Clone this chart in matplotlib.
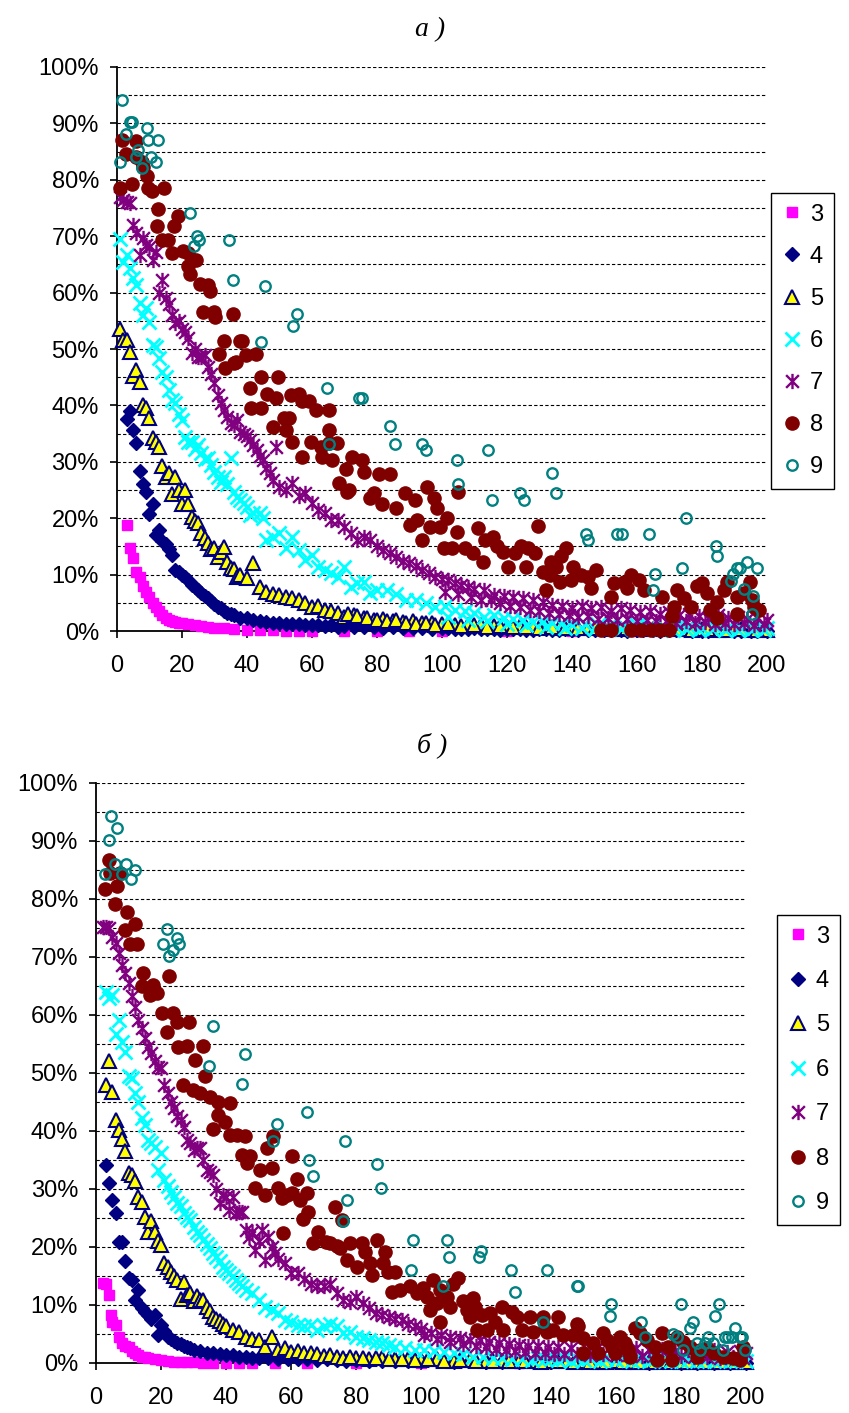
import matplotlib
matplotlib.use('Agg')
import matplotlib.pyplot as plt
from matplotlib.path import Path
from matplotlib.ticker import MultipleLocator, FuncFormatter

plt.rcParams['font.family'] = ['Liberation Sans', 'DejaVu Sans']

# ---------------- chart a ----------------
a3_x = [3, 4, 5, 6, 7, 8, 9, 10, 11, 12,
        13, 14, 15, 16, 17, 18, 19, 20, 22, 24,
        26, 28, 30, 33, 36, 40, 44, 48, 52, 56,
        60, 70, 80, 90, 100, 120, 140, 160, 180, 200]
a3_y = [18.8, 14.7, 12.9, 10.5, 9.5, 8, 7, 6, 5, 4.2,
        3.5, 2.8, 2.4, 2, 1.8, 1.6, 1.5, 1.4, 1.2, 1,
        0.9, 0.8, 0.6, 0.5, 0.3, 0.2, 0.1, 0.1, 0, 0,
        0, 0, 0, 0, 0, 0, 0, 0, 0, 0]

a4_x = [3, 4, 5, 6, 7, 8, 9, 10, 11, 12,
        13, 14, 15, 16, 17, 18, 19, 20, 21, 22,
        23, 24, 25, 26, 27, 28, 29, 30, 31, 32,
        33, 34, 35, 36, 38, 40, 42, 44, 46, 48,
        50, 52, 54, 56, 58, 60, 62, 64, 66, 68,
        70, 73, 76, 79, 82, 85, 88, 91, 94, 97,
        100, 104, 108, 112, 116, 120, 124, 128, 132, 136,
        140, 145, 150, 155, 160, 165, 170, 175, 180, 185,
        190, 195, 200]
a4_y = [37.6, 39, 35.6, 33.3, 28.4, 26, 24.6, 20.7, 22.5, 17,
        18, 16, 15.4, 14.5, 13.5, 10.8, 10.5, 10, 9.5, 9,
        8.2, 7.8, 7.3, 6.8, 6.3, 5.9, 5.3, 4.8, 4.3, 4,
        3.6, 3.2, 3, 2.8, 2.4, 2.3, 2, 1.8, 1.6, 1.5,
        1.4, 1.3, 1.3, 1.2, 1.1, 1, 1.1, 0.9, 1, 0.8,
        0.9, 0.8, 0.7, 0.8, 0.6, 0.7, 0.5, 0.6, 0.5, 0.4,
        0.5, 0.4, 0.4, 0.3, 0.4, 0.3, 0.3, 0.2, 0.3, 0.2,
        0.2, 0.2, 0.1, 0.2, 0.1, 0.1, 0.1, 0.1, 0, 0.1,
        0, 0, 0]
a4_tail_x = [102, 106, 110, 114, 118, 122, 126, 130, 134, 138,
             142, 147, 152, 157, 162, 167, 172, 177, 182, 187,
             192, 197]
a4_tail_y = [0.6, 0.3, 0.5, 0.4, 0.2, 0.4, 0.2, 0.3, 0.1, 0.3,
             0.1, 0.1, 0.2, 0, 0.1, 0, 0.1, 0, 0, 0.1,
             0, 0]

a5_x = [1, 2, 3, 4, 5, 6, 7, 8, 9, 10,
        11, 12, 13, 14, 15, 16, 17, 18, 19, 20,
        21, 22, 23, 24, 25, 26, 27, 28, 29, 30,
        31, 32, 33, 34, 35, 36, 37, 38, 40, 42,
        44, 46, 48, 50, 52, 54, 56, 58, 60, 62,
        64, 66, 68, 70, 73, 76, 79, 82, 85, 88,
        91, 94, 97, 100, 104, 108, 112, 116, 120, 124,
        128, 132, 136, 140, 145, 150, 155, 160, 165, 170,
        175, 180, 185, 190, 195, 200]
a5_y = [53.5, 51.6, 51.6, 49.5, 45.2, 46.3, 44.1, 40, 39.5, 37.8,
        34.2, 33.6, 32.6, 29.3, 27.3, 28, 24.3, 27.3, 25, 22.5,
        25, 22.5, 20.2, 19.5, 19.1, 17.4, 16.5, 15.6, 14.5, 14.7,
        13.1, 14, 14.9, 12.2, 11.2, 11, 9.6, 10, 9.4, 12.1,
        7.8, 6.9, 6.5, 6.4, 6, 5.8, 5.5, 5, 4.3, 4.5,
        3.7, 3.5, 3.2, 2.5, 2.8, 2.3, 2, 2.2, 1.8, 1.6,
        1.7, 1.4, 1.5, 1.2, 1.1, 1, 1.1, 0.9, 0.8, 0.9,
        0.7, 0.8, 0.6, 0.6, 0.5, 0.5, 0.4, 0.4, 0.3, 0.4,
        0.3, 0.3, 0.2, 0.3, 0.2, 0.2]
a5_tail_x = [71, 74, 77, 80, 83, 86, 89, 92, 95, 98,
             102, 106, 110, 114, 118, 122, 126, 130, 134, 138,
             142, 147, 152, 157, 162, 167, 172, 177, 182, 187,
             192, 197]
a5_tail_y = [3, 2.6, 2.3, 1.9, 1.7, 1.9, 1.5, 1.3, 1.4, 1,
             1.2, 0.9, 1, 0.8, 0.9, 0.7, 0.8, 0.6, 0.7, 0.5,
             0.6, 0.5, 0.4, 0.5, 0.3, 0.4, 0.3, 0.2, 0.3, 0.2,
             0.3, 0.1]

a6_x = [1, 2, 3, 4, 5, 6, 7, 8, 9, 10,
        11, 12, 13, 14, 15, 16, 17, 18, 19, 20,
        21, 22, 23, 24, 25, 26, 27, 28, 29, 30,
        31, 32, 33, 34, 35, 36, 37, 38, 39, 40,
        41, 42, 44, 45, 46, 48, 50, 52, 54, 56,
        58, 60, 62, 64, 66, 68, 70, 72, 74, 76,
        78, 80, 83, 86, 89, 92, 95, 98, 101, 104,
        107, 110, 113, 116, 119, 122, 125, 128, 131, 134,
        137, 140, 144, 148, 152, 156, 160, 164, 168, 172,
        176, 180, 184, 188, 192, 196, 200]
a6_y = [69.5, 65.4, 66.7, 64.4, 62.6, 61.3, 58.2, 56, 57.3, 54.8,
        50.7, 50.4, 48.4, 46, 45, 42.7, 41, 40.4, 38.5, 37.4,
        34.4, 33.5, 33.5, 32.2, 33, 31.6, 30.5, 30.7, 29.5, 28.2,
        27.3, 26.5, 27.3, 26, 30.7, 24.6, 23.8, 23.2, 22.7, 22,
        20.6, 21, 20.9, 20, 16.1, 16.7, 17.4, 14.7, 16.7, 14.4,
        12.6, 13.5, 11.3, 10.8, 10.3, 9.6, 11.3, 7.8, 8.5, 8.7,
        6.7, 7.3, 7.3, 6.5, 5.5, 5.5, 5, 4.3, 4.5, 3.7,
        3.5, 3.2, 2.5, 2.8, 2.3, 2.1, 2, 1.6, 1.8, 1.4,
        1.5, 1.1, 1.3, 1, 1.2, 0.9, 1, 0.8, 0.9, 0.7,
        0.8, 0.6, 0.7, 0.5, 0.6, 0.5, 0.5]
a6_tail_x = [102, 108, 114, 120, 126, 132, 138, 143, 147, 151,
             155, 159, 163, 167, 171, 175, 179, 183, 187, 191,
             195, 199]
a6_tail_y = [2.5, 2, 1.8, 1.2, 1, 0.8, 0.6, 0.5, 0.4, 0.5,
             0.3, 0.4, 0.3, 0.4, 0.2, 0.3, 0.2, 0.3, 0.2, 0.2,
             0.1, 0.2]

a7_x = [1, 2, 3, 4, 5, 6, 7, 8, 9, 10,
        11, 12, 13, 14, 15, 16, 17, 18, 19, 20,
        21, 22, 23, 24, 25, 26, 27, 28, 29, 30,
        31, 32, 33, 34, 35, 36, 37, 38, 39, 40,
        41, 42, 43, 44, 45, 46, 47, 48, 49, 50,
        52, 54, 56, 58, 60, 62, 64, 66, 68, 70,
        72, 74, 76, 78, 80, 82, 84, 86, 88, 90,
        92, 94, 96, 98, 100, 102, 104, 106, 108, 110,
        113, 116, 119, 122, 125, 128, 131, 134, 137, 140,
        143, 146, 149, 152, 155, 158, 161, 164, 167, 170,
        173, 176, 179, 182, 185, 188, 191, 194, 197, 200]
a7_y = [77, 76.5, 76, 75.9, 72, 70.6, 66.7, 69.7, 68.5, 68,
        65.8, 67.2, 59.9, 62.2, 59, 58, 56, 54.6, 55, 53.5,
        53, 52, 49.3, 50, 48.5, 48.6, 48.9, 46.8, 45.5, 44,
        41.8, 40.5, 39.2, 38, 36.9, 36.5, 37.4, 35.3, 35, 34.5,
        33.9, 33, 32.1, 31, 30.3, 28.9, 28, 26.8, 32.6, 25.5,
        25, 26.2, 24, 24.5, 22.7, 21.5, 20.9, 19.7, 19.7, 18.4,
        17.4, 16.1, 16.7, 16.1, 15, 14.4, 13.8, 13.1, 12.5, 12,
        11.5, 10.8, 10.3, 9.6, 9.2, 9, 8.5, 8.2, 7.8, 7.5,
        7.3, 6.4, 6.2, 6, 5.9, 5.5, 5.1, 4.6, 4.4, 4.1,
        4.5, 4, 4.2, 3.6, 4, 3.8, 3.3, 3.6, 3.1, 3.4,
        2.8, 3, 2.7, 2.4, 2.8, 2.3, 2.5, 2.1, 2.3, 2]
a7_tail_x = [101, 105, 109, 112, 115, 118, 121, 124, 127, 130,
             133, 136, 139, 142, 145, 148, 151, 154, 157, 160,
             163, 166, 169, 172, 175, 178, 181, 184, 187, 190,
             193, 196, 199]
a7_tail_y = [7, 6.5, 6, 5.5, 5.5, 5, 4.5, 4.2, 3.8, 3.5,
             3.2, 3, 2.8, 2.5, 2.6, 2.2, 2.4, 2, 2.2, 1.8,
             2, 1.7, 1.8, 1.5, 1.7, 1.4, 1.6, 1.3, 1.5, 1.2,
             1.4, 1.1, 1.2]

a8_pts = [(1.4, 87.1), (5.8, 86.8), (2.8, 84.6), (6, 84.1), (7.6, 83.2), (8, 82.3), (9.1, 80.6),
          (0.9, 78.5), (4.5, 79.3), (9.6, 78.5), (10.9, 78.1), (14.4, 78.5), (12.7, 74.9), (18.8, 73.6),
          (12.2, 71.8), (17.5, 71.8), (13.7, 69.3), (15.7, 69.3), (17, 67.1), (20.3, 67.4), (21.8, 67),
          (24.4, 65.8), (21.8, 64.8), (22.4, 63.3), (25.4, 61.5), (28, 61.3), (28.5, 60.2), (26.6, 56.5),
          (29.8, 56.5), (30.3, 55.7), (35.8, 56.2), (32.8, 51.5), (37.7, 51.5), (38.5, 51.5), (31.5, 49.1),
          (39.7, 48.9), (42.8, 49.2), (36.7, 47.7), (33.1, 46.6), (36.1, 47.5), (44.3, 45.1), (49.4, 45.1),
          (40.9, 43), (46.3, 42.1), (48.9, 41.3), (53.5, 41.8), (56, 42.1), (57, 40.7), (59.1, 40.7),
          (41.2, 39.5), (44.3, 39.5), (51.5, 37.7), (53, 37.7), (61.2, 39.2), (65.2, 39.2), (47.9, 36.2),
          (52, 35.6), (65.2, 35.6), (54, 33.6), (59.6, 33.6), (62.7, 32.7), (65.2, 33.3), (57, 30.8),
          (63.2, 30.8), (66.2, 30.3), (70.4, 28.8), (68.3, 26.2), (70.8, 24.7), (67.8, 33.3), (72.4, 30.9),
          (75.4, 30.3), (76, 28.2), (80.6, 27.9), (84.1, 27.9), (71.4, 25), (79, 24.4), (78, 23.5),
          (81.6, 22.6), (85.7, 21.8), (88.7, 24.4), (91.8, 23.2), (95.3, 25.6), (97.4, 23.5), (98.4, 21.8),
          (101.5, 20), (90.3, 18.8), (92.3, 19.7), (96.4, 18.5), (99.4, 18.5), (104.5, 17.6), (93.8, 16.1),
          (100.5, 14.7), (103, 14.7), (107.1, 14.7), (105, 24.7), (111.2, 18.2), (113.2, 16.1),
          (115.8, 16.7), (109.6, 13.8), (112.7, 12.3), (116.8, 15), (118.8, 14.1), (120.4, 11.4),
          (122.4, 13.8), (124.4, 15), (126.5, 14.7), (128.5, 13.8), (126, 11.4), (129.6, 18.6),
          (138.2, 14.8), (136.7, 13.3), (133.6, 12.2), (135.1, 11.4), (131, 10.5), (133.1, 9.9),
          (136.2, 8.7), (132.1, 7.3), (140.3, 11.4), (139.8, 9), (142.8, 9.9), (144.9, 9.6), (147.4, 10.8),
          (145.9, 7.6), (153, 8.5), (152, 6.1), (156.1, 8.7), (157, 7.6), (158.1, 9.9), (160.7, 9),
          (162.2, 7.3), (167.8, 6.1), (172.4, 7.3), (171.4, 4.3), (170.9, 2.7), (174.5, 5.8), (176.5, 4.3),
          (178.6, 7.9), (180.1, 8.5), (181.6, 6.7), (184.7, 5.2), (182.6, 3.7), (184.7, 2.3), (186.7, 7.3),
          (187.7, 8.7), (190.8, 6.1), (190.8, 3.1), (192.8, 6.7), (194.8, 8.7), (195.9, 4.3), (197.4, 3.7),
          (195.3, 5.5), (149, 0.2), (152, 0.2), (158.1, 0.2), (161.1, 0.2), (164.2, 0.2), (167.2, 0.2),
          (169.8, 0.2)]

a9_pts = [(1.4, 94.1), (4, 90.3), (4.5, 90.3), (9.1, 89.1), (2.8, 88.1), (9.6, 87.1), (12.7, 87.1),
          (6.5, 85.3), (5.8, 84.1), (10.6, 84.1), (0.9, 83.1), (11.9, 83.1), (7.6, 82.1), (22.4, 74.2),
          (24.6, 70.1), (25.2, 69.3), (23.6, 68.3), (34.6, 69.3), (35.8, 62.2), (45.6, 61.2), (55.4, 56.2),
          (54.2, 54.1), (44.4, 51.2), (64.7, 43), (65.2, 33.2), (74.4, 41.3), (75.4, 41.3), (84.1, 36.3),
          (85.5, 33.2), (94, 33.2), (95, 32.1), (104.5, 30.3), (105, 26.1), (114.2, 32.1), (115.3, 23.2),
          (124, 24.4), (125.3, 23.2), (133.8, 28.1), (135, 24.4), (144.3, 17.2), (144.9, 16.1), (154, 17.2),
          (155.3, 17.2), (163.8, 17.2), (165.6, 10.1), (165, 7.3), (175, 20), (173.7, 11.1), (184.2, 15.1),
          (184.7, 13.3), (189, 8.9), (189.6, 10.2), (190.8, 11.1), (191.8, 11.1), (193.9, 12.2), (197, 11.1),
          (192.9, 7.4), (195.7, 6.2), (195.4, 3.1)]

# ---------------- chart b ----------------
b3_x = [2, 3, 4, 4.5, 5, 6, 7, 8, 9, 10,
        11, 12, 13, 14, 15, 16, 18, 20, 22, 24,
        26, 28, 30, 33, 36, 40, 44, 48, 55, 65,
        80, 100, 130, 160, 200]
b3_y = [13.8, 13.7, 11.7, 8.3, 7, 6.6, 4.5, 3.4, 3, 2.8,
        2, 1.7, 1.3, 1.1, 1, 0.9, 0.6, 0.5, 0.3, 0.2,
        0.2, 0.1, 0.1, 0, 0, 0, 0, 0, 0, 0,
        0, 0, 0, 0, 0]

b4_x = [3, 4, 5, 6, 7, 8, 9, 10, 11, 12,
        13, 14, 15, 16, 17, 18, 19, 20, 21, 22,
        23, 24, 25, 26, 27, 28, 29, 30, 32, 34,
        36, 38, 40, 42, 44, 46, 48, 50, 53, 56,
        59, 62, 65, 68, 71, 74, 77, 80, 84, 88,
        92, 96, 100, 105, 110, 115, 120, 125, 130, 135,
        140, 145, 150, 155, 160, 165, 170, 175, 180, 185,
        190, 195, 200]
b4_y = [34.1, 31.1, 28.1, 25.8, 20.9, 20.9, 17.5, 14.6, 14.3, 10.9,
        12.6, 9.4, 8.8, 8.3, 7.5, 8.3, 4.8, 6.6, 5.5, 4.5,
        4.2, 3.8, 3.4, 3.2, 3, 2.8, 2.5, 2.3, 2.1, 1.8,
        1.7, 1.5, 1.4, 1.3, 1.1, 1, 0.9, 0.8, 0.8, 0.7,
        0.6, 0.7, 0.6, 0.5, 0.6, 0.5, 0.4, 0.5, 0.4, 0.4,
        0.3, 0.4, 0.3, 0.3, 0.2, 0.3, 0.2, 0.2, 0.2, 0.1,
        0.2, 0.1, 0.1, 0.1, 0.1, 0.1, 0, 0.1, 0, 0,
        0, 0, 0]

b5_x = [3, 4, 5, 6, 7, 8, 9, 10, 11, 12,
        13, 14, 15, 16, 17, 18, 19, 20, 21, 22,
        23, 24, 25, 26, 27, 28, 29, 30, 31, 32,
        33, 34, 35, 36, 37, 38, 39, 40, 42, 44,
        46, 48, 50, 52, 54, 56, 58, 60, 62, 64,
        66, 68, 70, 72, 74, 76, 80, 84, 88, 92,
        96, 100, 105, 110, 115, 120, 125, 130, 135, 140,
        145, 150, 155, 160, 165, 170, 175, 180, 185, 190,
        195, 200]
b5_y = [47.9, 52, 46.8, 41.9, 40.2, 38.7, 36.6, 32.7, 32.4, 31.3,
        28.7, 27.8, 25.2, 22.6, 24.4, 22.6, 21, 20.3, 17.2, 16.5,
        15.7, 15, 14.3, 11, 14, 11.7, 12, 10.6, 11.5, 10.9,
        10.9, 9.7, 9, 8, 7.5, 7.2, 6.8, 6.3, 5.7, 5.4,
        4.5, 4.2, 4, 2.8, 4.4, 2.2, 2.5, 1.9, 2.1, 1.7,
        1.8, 1.5, 1.2, 1.4, 1, 0.8, 0.9, 0.7, 0.8, 0.6,
        0.6, 0.5, 0.6, 0.4, 0.5, 0.4, 0.4, 0.3, 0.4, 0.3,
        0.3, 0.3, 0.2, 0.3, 0.2, 0.2, 0.3, 0.2, 0.2, 0.2,
        0.1, 0.2]
b5_tail_x = [78, 82, 86, 90, 94, 98, 102, 107, 112, 117,
             122, 127, 132, 137, 142, 147, 152, 157, 162, 167,
             172, 177, 182, 187, 192, 197]
b5_tail_y = [1.1, 0.8, 0.9, 0.6, 0.7, 0.5, 0.6, 0.4, 0.5, 0.3,
             0.4, 0.3, 0.3, 0.2, 0.3, 0.2, 0.2, 0.1, 0.2, 0.1,
             0.2, 0.1, 0.1, 0.1, 0.1, 0.1]

b6_x = [3, 4, 5, 6, 7, 8, 9, 10, 11, 12,
        13, 14, 15, 16, 17, 18, 19, 20, 21, 22,
        23, 24, 25, 26, 27, 28, 29, 30, 31, 32,
        33, 34, 35, 36, 37, 38, 39, 40, 41, 42,
        43, 44, 45, 46, 48, 50, 52, 54, 56, 58,
        60, 62, 64, 66, 68, 70, 72, 74, 76, 78,
        80, 82, 84, 86, 88, 90, 92, 95, 98, 101,
        104, 107, 110, 113, 116, 119, 122, 125, 128, 131,
        134, 138, 142, 146, 150, 155, 160, 165, 170, 175,
        180, 185, 190, 195, 200]
b6_y = [64, 62.9, 63.5, 56.8, 59.1, 55.4, 53.7, 49.4, 49.1, 46.5,
        45, 42.2, 41, 38.4, 38, 37.3, 33.3, 36.2, 31.6, 30.5,
        29.5, 28.7, 27.5, 27, 25.8, 25.2, 24.7, 23.5, 22.5, 22,
        21.2, 20.5, 19.8, 19, 18.3, 17.5, 16.6, 16, 15.5, 15,
        14.3, 13.8, 13.2, 12.6, 12, 10.9, 9.7, 9.2, 8.6, 7.4,
        7, 6.6, 6.3, 6.5, 5.7, 6.3, 6.8, 6.3, 5.1, 5.3,
        4.5, 4.3, 4, 3.7, 3.4, 3.1, 2.8, 2.5, 2.3, 2.2,
        2, 1.9, 1.7, 1.5, 1.1, 1, 0.8, 0.9, 0.7, 0.6,
        0.5, 0.6, 0.5, 0.4, 0.5, 0.4, 0.5, 0.4, 0.4, 0.3,
        0.4, 0.3, 0.3, 0.3, 0.3]
b6_tail_x = [136, 140, 144, 148, 152, 157, 162, 167, 172, 177,
             182, 187, 192, 197]
b6_tail_y = [0.8, 0.7, 0.9, 0.6, 0.8, 0.6, 0.7, 0.5, 0.6, 0.4,
             0.5, 0.4, 0.5, 0.3]

b7_x = [2, 3, 4, 5, 6, 7, 8, 9, 10, 11,
        12, 13, 14, 15, 16, 17, 18, 19, 20, 21,
        22, 23, 24, 25, 26, 27, 28, 29, 30, 31,
        32, 33, 34, 35, 36, 37, 38, 39, 40, 41,
        42, 43, 44, 45, 46, 47, 48, 49, 50, 51,
        52, 53, 54, 55, 56, 58, 60, 62, 64, 66,
        68, 70, 72, 74, 76, 78, 80, 82, 84, 86,
        88, 90, 92, 94, 96, 98, 100, 103, 106, 109,
        112, 115, 118, 121, 124, 127, 130, 133, 136, 139,
        142, 146, 150, 154, 158, 162, 166, 170, 174, 178,
        182, 186, 190, 194, 198, 200]
b7_y = [75.2, 75.2, 75, 73.5, 72.4, 70.6, 68.6, 67.2, 65.5, 63.2,
        61.4, 59.1, 57.7, 56, 54.5, 53.4, 52, 51.1, 50.8, 48,
        46.5, 45, 44, 42.5, 41.9, 40.7, 38.4, 38, 36.7, 37,
        37, 35, 33.3, 33, 32.4, 30, 27.5, 29, 28.7, 26.4,
        28.7, 25.8, 26.1, 26, 23, 21.8, 22.5, 19.5, 21, 22.9,
        17.8, 21.8, 20, 18.9, 18, 17.2, 15.5, 15.5, 14.5, 13.7,
        13.2, 13.2, 13.7, 12, 10.9, 10.5, 11.4, 10.3, 9.5, 8.6,
        8.3, 8, 7.6, 7.4, 6.8, 6.3, 5.9, 5.1, 4.8, 4.5,
        4.3, 4, 3.9, 3.7, 3.4, 3.2, 3.1, 2.9, 3, 2.8,
        2.8, 2.6, 2.9, 2.5, 2.7, 2.4, 2.6, 2.3, 2.4, 2.1,
        2.3, 2, 2.2, 1.9, 2, 1.8]
b7_tail_x = [101, 105, 109, 113, 117, 120, 123, 126, 129, 132,
             135, 138, 141, 144, 148, 152, 156, 160, 164, 168,
             172, 176, 180, 184, 188, 192, 196, 199]
b7_tail_y = [4.8, 4.2, 3.6, 3.2, 3, 2.7, 2.4, 2.2, 2.1, 1.9,
             1.8, 1.7, 1.6, 1.5, 1.6, 1.4, 1.5, 1.3, 1.4, 1.2,
             1.3, 1.1, 1.2, 1, 1.1, 0.9, 1, 0.9]

b8_pts = [(4.1, 86.7), (4.3, 84.4), (7.4, 84.4), (2.8, 81.7), (6.4, 82.2), (5.8, 79.1), (9.4, 77.8),
          (12, 75.7), (8.9, 74.7), (10.5, 72.2), (12.5, 72.2), (14.6, 67.2), (22.6, 66.7), (14.1, 65),
          (17.6, 65.2), (16.6, 63.4), (18.7, 63.7), (20.2, 60.3), (23.8, 60.3), (25, 58.8), (28.7, 58.8),
          (21.9, 57), (25.3, 54.5), (28.1, 54.7), (33, 54.7), (30.5, 52.2), (33.5, 49.4), (26.9, 47.9),
          (29.9, 47.1), (32, 46.5), (35.1, 45.9), (37.6, 45), (41.2, 44.8), (37.6, 42.8), (39.7, 41.6),
          (36.1, 40.3), (41.2, 39.3), (43.3, 39.3), (45.8, 39.1), (54.6, 39.1), (52.5, 37), (44.8, 35.9),
          (47.4, 35.6), (46.4, 34.4), (50.5, 33.3), (54.1, 33.6), (60.2, 35.7), (61.7, 31.7), (48.9, 30.1),
          (52, 29), (56.1, 30.1), (57.1, 28.4), (58.7, 29), (60.2, 29.3), (62.8, 28.1), (64.8, 29.3),
          (65.3, 26.1), (63.8, 24.8), (73.5, 26.9), (75.6, 24.7), (57.6, 22.4), (68.4, 22.5), (70.9, 20.9),
          (66.9, 20.6), (74, 20.1), (77.1, 17.8), (72, 20.6), (75.1, 19.8), (78.2, 20.6), (81.8, 20.6),
          (86.4, 21.2), (88.9, 19.2), (80.2, 16.6), (82.8, 19.2), (84.3, 17.2), (84.8, 15.2), (88.4, 17.2),
          (89.9, 15.7), (92, 15.7), (91, 12.3), (93.5, 12.6), (96.6, 13.2), (98.7, 12), (100.7, 12.9),
          (101.8, 11.4), (103.8, 14.3), (105.8, 12.6), (109.9, 13.7), (111.5, 14.6), (102.8, 9.1),
          (105.8, 7.1), (104.8, 10.3), (107.9, 11.4), (108.9, 9.7), (113, 10.6), (114.1, 9.1), (116.1, 11.2),
          (116.6, 9.7), (115.1, 8), (118.7, 8.3), (121.2, 8.6), (122.8, 7.1), (125.3, 5.7), (117.1, 5.7),
          (120.2, 5.7), (124.8, 9.7), (127.9, 8.8), (129.4, 8), (133.5, 8), (137.6, 8), (142.2, 8),
          (131, 5.7), (134.6, 5.4), (138.7, 5.4), (143.8, 4.8), (147.9, 6.8), (138.2, 6), (140.7, 5.7),
          (146.9, 4.8), (148.4, 6.3), (149.9, 4.3), (153, 3.4), (149.9, 1.7), (154.6, 1.7), (156.1, 5.1),
          (157.1, 4), (158.7, 2.8), (159.7, 1.7), (161.2, 4.5), (162.8, 3.4), (163.8, 2.2), (164.3, 1.1),
          (165.8, 6), (167.4, 5.1), (169.4, 4), (172, 2.8), (172.5, 0.5), (174.1, 5.1), (176.1, 2.8),
          (177.1, 0.5), (178.7, 4.5), (180.7, 3.7), (182.8, 2.8), (185.8, 2.2), (184.8, 1.1), (187.9, 2.5),
          (190, 1.7), (193, 1.1), (196.1, 0.8), (198.2, 0.5), (199.2, 2.8)]

b9_pts = [(4.5, 94.3), (6.6, 92.2), (4.1, 90.1), (5.8, 86), (9.2, 86), (7.9, 84.3), (12, 85), (2.8, 84.3),
          (10.7, 83.4), (21.8, 74.9), (24.8, 73.2), (25.6, 72.2), (20.5, 72.2), (23.8, 71.2), (22.6, 70.2),
          (36.1, 58.1), (45.8, 53.3), (34.9, 51.2), (44.8, 48.1), (64.8, 43.3), (55.8, 41.2), (54.4, 38.2),
          (76.6, 38.2), (65.6, 35), (66.9, 32.2), (77.1, 28.1), (76.1, 24.4), (86.4, 34.3), (87.6, 30.2),
          (97.6, 21.2), (107.9, 21.2), (108.7, 18.2), (96.8, 16), (106.9, 13.3), (118.5, 19.3),
          (117.9, 18.2), (127.7, 16), (128.9, 12.3), (138.9, 16), (137.6, 7.1), (147.9, 13.3),
          (148.4, 13.3), (158.4, 10.1), (158, 8.1), (167.6, 7), (168.9, 4.4), (180, 10.1), (177.6, 5),
          (178.7, 4.5), (180.7, 2.2), (182.8, 6), (183.8, 7.1), (184.8, 3.4), (185.8, 2.2), (187.4, 3.4),
          (188.4, 4.4), (189.9, 3.4), (191.8, 10.1), (190.5, 8.1), (193, 2.2), (193.5, 4.4), (194.6, 4.4),
          (195.6, 4.4), (196.6, 6), (198.2, 4.4), (198.7, 4.4), (199.7, 2.2)]

# excel-like asterisk: an x with a vertical bar
asterisk = Path([(-1, -1), (1, 1), (-1, 1), (1, -1), (0, -1.2), (0, 1.2)],
                [Path.MOVETO, Path.LINETO] * 3)

styles = {
    3: dict(marker='s', ms=7, mfc='#FF00FF', mec='#FF00FF'),
    4: dict(marker='D', ms=7.5, mfc='#000080', mec='#000080'),
    5: dict(marker='^', ms=9.5, mfc='#FFFF00', mec='#000080', mew=1.5),
    6: dict(marker='x', ms=9.5, mec='#00FFFF', mew=2),
    7: dict(marker=asterisk, ms=11, mec='#800080', mew=1.7),
    8: dict(marker='o', ms=9.5, mfc='#800000', mec='#800000'),
    9: dict(marker='o', ms=7.5, mfc='none', mec='#008080', mew=1.7),
}


def draw(ax, series, leg_pos, leg_space):
    for z, (name, xs, ys) in enumerate(series):
        ax.plot(xs, ys, linestyle='none', label=str(name), clip_on=False,
                zorder=3 + z, **styles[name])
    ax.set_xlim(0, 200)
    ax.set_ylim(0, 100)
    ax.xaxis.set_major_locator(MultipleLocator(20))
    ax.yaxis.set_major_locator(MultipleLocator(10))
    ax.yaxis.set_minor_locator(MultipleLocator(5))
    ax.yaxis.set_major_formatter(FuncFormatter(lambda v, p: f"{int(v)}%"))
    ax.grid(axis='y', which='both', color='black', linestyle=(0, (3, 2)), linewidth=0.8)
    ax.set_axisbelow(True)
    for s in ('top', 'right'):
        ax.spines[s].set_visible(False)
    for s in ('left', 'bottom'):
        ax.spines[s].set_linewidth(1.3)
        ax.spines[s].set_zorder(2.5)
    ax.tick_params(axis='both', which='major', direction='out', length=5, width=1.2, labelsize=17)
    ax.tick_params(axis='y', which='minor', length=0)
    ax.tick_params(axis='x', pad=12)
    ax.tick_params(axis='y', pad=8)
    ax.legend(loc='upper left', bbox_to_anchor=leg_pos, bbox_transform=fig.transFigure,
              fancybox=False, edgecolor='black', framealpha=1, fontsize=17,
              handlelength=0.9, handletextpad=0.3, labelspacing=leg_space,
              borderpad=0.45, borderaxespad=0)


fig = plt.figure(figsize=(8.49, 14.13), dpi=100)

ax_a = fig.add_axes([0.1378, 0.5534, 0.7656, 0.3992])
series_a = [(3, a3_x, a3_y), (4, a4_x + a4_tail_x, a4_y + a4_tail_y),
            (5, a5_x + a5_tail_x, a5_y + a5_tail_y), (6, a6_x + a6_tail_x, a6_y + a6_tail_y),
            (7, a7_x + a7_tail_x, a7_y + a7_tail_y),
            (8, [p[0] for p in a8_pts], [p[1] for p in a8_pts]),
            (9, [p[0] for p in a9_pts], [p[1] for p in a9_pts])]
draw(ax_a, series_a, (771 / 849, 1 - 193 / 1413), 0.85)

ax_b = fig.add_axes([0.1131, 0.0354, 0.7656, 0.4105])
series_b = [(3, b3_x, b3_y), (4, b4_x, b4_y),
            (5, b5_x + b5_tail_x, b5_y + b5_tail_y), (6, b6_x + b6_tail_x, b6_y + b6_tail_y),
            (7, b7_x + b7_tail_x, b7_y + b7_tail_y),
            (8, [p[0] for p in b8_pts], [p[1] for p in b8_pts]),
            (9, [p[0] for p in b9_pts], [p[1] for p in b9_pts])]
draw(ax_b, series_b, (777 / 849, 1 - 915 / 1413), 0.95)

fig.text(430 / 849, 1 - 30 / 1413, 'a )', ha='center', va='center',
         family='Liberation Serif', style='italic', fontsize=20)
fig.text(432 / 849, 1 - 745 / 1413, 'б )', ha='center', va='center',
         family='Liberation Serif', style='italic', fontsize=20)

fig.savefig('out.png', dpi=100)
